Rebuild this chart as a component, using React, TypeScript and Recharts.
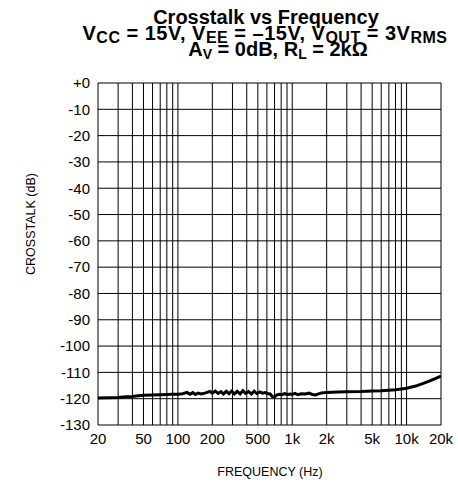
import React from "react";
import { LineChart, Line, XAxis, YAxis, CartesianGrid } from "recharts";

// crosstalk curve
const freqHz = [
  20, 25, 30, 35, 40, 45, 50, 60, 70, 80, 90, 100, 110, 120, 128, 135, 142, 150, 160, 175,
  190, 200, 212, 225, 238, 250, 265, 280, 295, 312, 330, 350, 370, 390, 415, 440, 465, 490,
  520, 550, 580, 610, 640, 670, 700, 730, 770, 810, 860, 910, 960, 1000, 1060, 1120, 1200,
  1300, 1400, 1500, 1600, 1700, 1800, 2000, 2500, 3000, 4000, 5000, 6000, 7000, 8000, 9000,
  10000, 12000, 14000, 16000, 18000, 20000,
];
const crosstalkDb = [
  -119.7, -119.6, -119.5, -119.3, -119.2, -118.9, -118.7, -118.6, -118.5, -118.4, -118.3,
  -118.3, -118.1, -117.6, -118.3, -117.7, -118.4, -117.9, -118.2, -117.8, -117.2, -117.9,
  -117.1, -118.0, -117.3, -118.2, -117.2, -118.1, -117.1, -118.2, -117.2, -118.2, -117.0,
  -118.0, -117.3, -118.2, -117.1, -118.1, -117.4, -117.9, -117.7, -118.0, -118.2, -119.2,
  -119.4, -118.6, -118.3, -118.5, -118.1, -118.4, -118.2, -118.4, -118.0, -118.5, -118.1,
  -118.2, -117.9, -118.4, -118.6, -118.2, -117.8, -117.6, -117.5, -117.4, -117.3, -117.1,
  -117.0, -116.8, -116.6, -116.3, -116.0, -115.2, -114.2, -113.2, -112.3, -111.4,
];

const gridFreqs = [
  20, 30, 40, 50, 60, 70, 80, 90, 100, 200, 300, 400, 500, 600, 700, 800, 900, 1000,
  2000, 3000, 4000, 5000, 6000, 7000, 8000, 9000, 10000, 20000,
];
const freqLabels: Record<number, string> = {
  20: "20", 50: "50", 100: "100", 200: "200", 500: "500",
  1000: "1k", 2000: "2k", 5000: "5k", 10000: "10k", 20000: "20k",
};
const dbTicks = [0, -10, -20, -30, -40, -50, -60, -70, -80, -90, -100, -110, -120, -130];

const data = freqHz.map((f, i) => ({ f, db: crosstalkDb[i] }));

const font = "'Liberation Sans', Arial, sans-serif";

function Overlay() {
  const sub = { fontSize: 16 };
  return (
    <svg
      width={458}
      height={487}
      style={{ position: "absolute", left: 0, top: 0, pointerEvents: "none" }}
      fontFamily={font}
      fill="#000"
    >
      <g fontWeight="bold" fontSize={20}>
        <text x={266} y={24} textAnchor="middle">Crosstalk vs Frequency</text>
        <text x={265} y={40} textAnchor="middle" letterSpacing={0.5}>
          V<tspan dy={3} {...sub}>CC</tspan>
          <tspan dy={-3}> = 15V, V</tspan>
          <tspan dy={3} {...sub}>EE</tspan>
          <tspan dy={-3}> = –15V, V</tspan>
          <tspan dy={3} {...sub}>OUT</tspan>
          <tspan dy={-3}> = 3V</tspan>
          <tspan dy={3} {...sub}>RMS</tspan>
        </text>
        <text x={278} y={56} textAnchor="middle">
          A<tspan dy={3} fontSize={14}>V</tspan>
          <tspan dy={-3}> = 0dB, R</tspan>
          <tspan dy={3} fontSize={14}>L</tspan>
          <tspan dy={-3}> = 2kΩ</tspan>
        </text>
      </g>
      <text
        fontSize={12.5}
        textAnchor="middle"
        dominantBaseline="central"
        transform="translate(31 224) rotate(-90)"
      >
        CROSSTALK (dB)
      </text>
      <text x={270} y={472} fontSize={12.5} textAnchor="middle" dominantBaseline="central">
        FREQUENCY (Hz)
      </text>
    </svg>
  );
}

export default function App() {
  return (
    <div style={{ position: "absolute", left: 0, top: 0, width: 458, height: 487, background: "#fff" }}>
      <LineChart
        width={458}
        height={487}
        data={data}
        margin={{ top: 83, right: 17, left: 0, bottom: 0 }}
        style={{ fontFamily: font }}
      >
        <CartesianGrid stroke="#000" strokeWidth={1} />
        <XAxis
          dataKey="f"
          type="number"
          scale="log"
          domain={[20, 20000]}
          ticks={gridFreqs}
          tickFormatter={(v: number) => freqLabels[v] ?? ""}
          interval={0}
          axisLine={false}
          tickLine={false}
          height={62}
          tick={{ fill: "#000", fontSize: 15 }}
          allowDataOverflow
        />
        <YAxis
          type="number"
          domain={[-130, 0]}
          ticks={dbTicks}
          interval={0}
          tickFormatter={(v: number) => (v === 0 ? "+0" : String(v))}
          axisLine={false}
          tickLine={false}
          width={98}
          tick={{ fill: "#000", fontSize: 15 }}
        />
        <Line
          type="linear"
          dataKey="db"
          stroke="#000"
          strokeWidth={3}
          dot={false}
          isAnimationActive={false}
        />
      </LineChart>
      <Overlay />
    </div>
  );
}
